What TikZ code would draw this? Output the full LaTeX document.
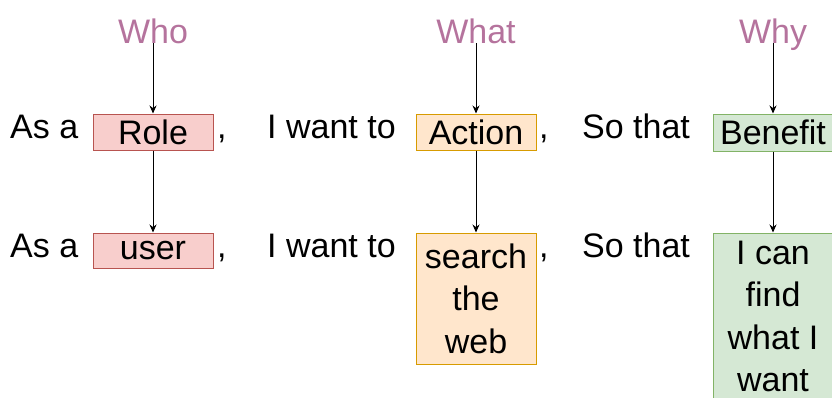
\documentclass[tikz,border=0pt]{standalone}
\usepackage{fontspec}
\setmainfont{Liberation Sans}
\usetikzlibrary{arrows.meta}
\definecolor{qcol}{HTML}{B5739D}
\definecolor{redfill}{HTML}{F8CECC}\definecolor{redline}{HTML}{B85450}
\definecolor{orfill}{HTML}{FFE6CC}\definecolor{orline}{HTML}{D79B00}
\definecolor{grfill}{HTML}{D5E8D4}\definecolor{grline}{HTML}{82B366}
\tikzset{
  txt/.style={font=\fontsize{34}{42.5}\selectfont, inner sep=0pt, anchor=base west},
  question/.style={font=\fontsize{34}{42.5}\selectfont, inner sep=0pt, anchor=base, text=qcol},
  box/.style={font=\fontsize{34}{42.5}\selectfont, inner sep=0pt, draw, line width=1pt,
     minimum width=120pt, align=center},
  redbox/.style={box, fill=redfill, draw=redline},
  orbox/.style={box, fill=orfill, draw=orline},
  grbox/.style={box, fill=grfill, draw=grline},
  conn/.style={-{Stealth[length=8pt,width=7pt]}, line width=1pt, black}
}
\begin{document}
\begin{tikzpicture}[x=1pt,y=-1pt]
\useasboundingbox (0,0) rectangle (832,397);
% questions
\node[question] (who) at (153,43) {Who};
\node[question] (what) at (476,43) {What};
\node[question] (why) at (773,43) {Why};
% row 1
\node[txt] (asa1) at (10,138) {As a};
\node[redbox, minimum height=36pt] (role) at (153,132) {Role};
\node[txt] (c11) at (217,138) {,};
\node[txt] (want1) at (267,138) {I want to};
\node[orbox, minimum height=36pt] (action) at (476,132) {Action};
\node[txt] (c12) at (539,138) {,};
\node[txt] (so1) at (582,138) {So that};
\node[grbox, minimum height=37pt] (benefit) at (773,132.5) {Benefit};
% row 2
\node[txt] (asa2) at (10,257) {As a};
\node[redbox, minimum height=35pt] (user) at (153,250.5) {user};
\node[txt] (c21) at (217,257) {,};
\node[txt] (want2) at (267,257) {I want to};
\node[orbox, minimum height=131pt] (search) at (476,298.5) {search\\the\\web};
\node[txt] (c22) at (539,257) {,};
\node[txt] (so2) at (582,257) {So that};
\node[grbox, minimum height=167pt] (find) at (773,316.5) {I can\\find\\what I\\want};
% connectors
\draw[conn] (who.base) -- (role.north);
\draw[conn] (role.south) -- (user.north);
\draw[conn] (what.base) -- (action.north);
\draw[conn] (action.south) -- (search.north);
\draw[conn] (why.base) -- (benefit.north);
\draw[conn] (benefit.south) -- (find.north);
\end{tikzpicture}
\end{document}
